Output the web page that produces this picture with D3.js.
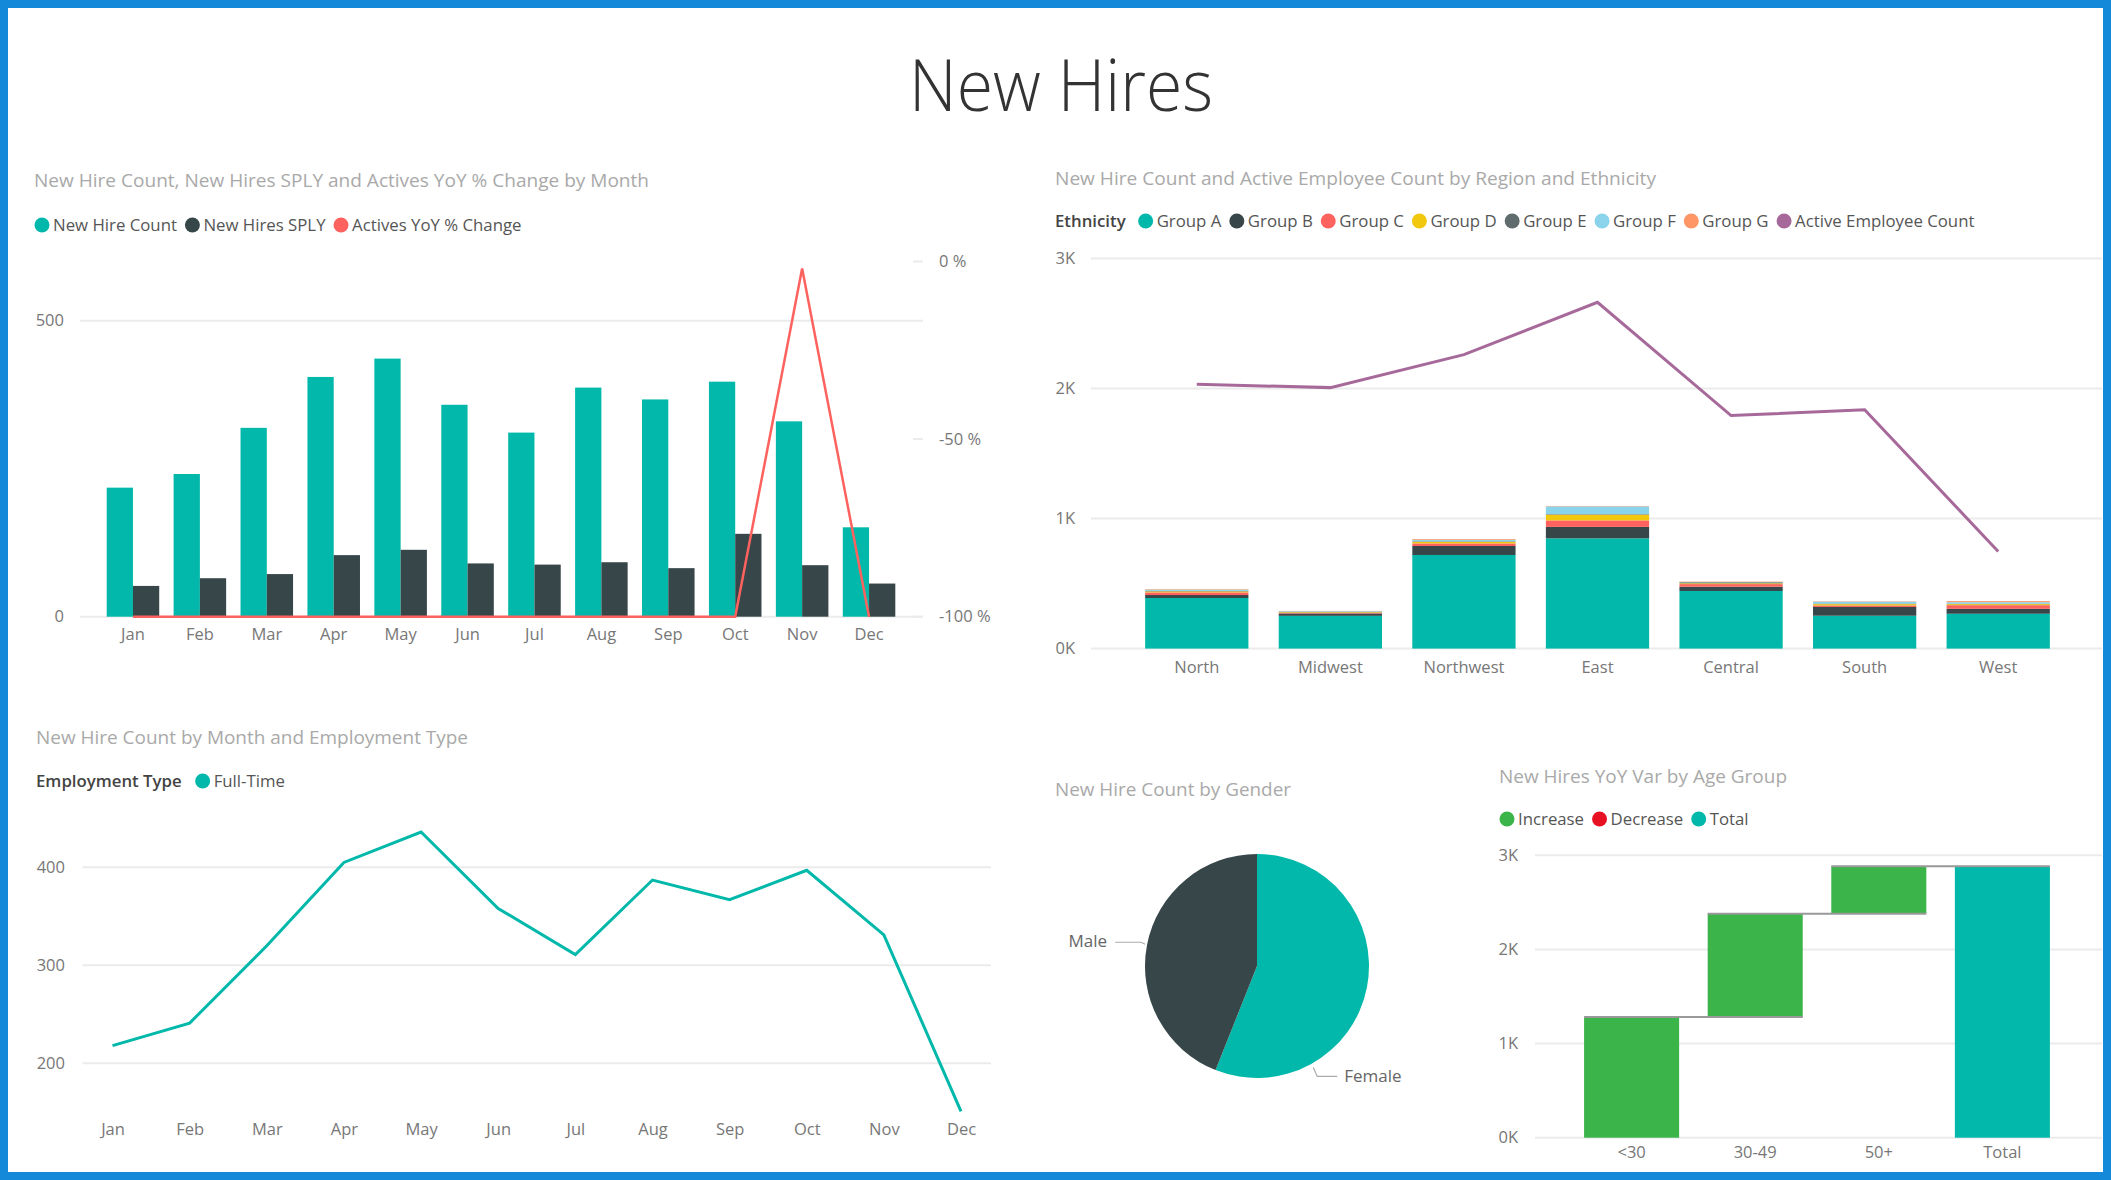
<!DOCTYPE html>
<html><head><meta charset="utf-8">
<script src="https://cdn.jsdelivr.net/npm/d3@7"></script>
<style>
html,body{margin:0;padding:0;background:#fff;overflow:hidden;}
svg{display:block;}
text{font-family:"Segoe UI","Open Sans",sans-serif;}
</style></head><body>
<svg id="dash" width="2111" height="1180"></svg>
<script>
// ---------------- DATA ----------------
const months = ["Jan","Feb","Mar","Apr","May","Jun","Jul","Aug","Sep","Oct","Nov","Dec"];
const newHireCount = [218, 241, 319, 405, 436, 358, 311, 387, 367, 397, 330, 151];
const newHiresSPLY = [52, 65, 72, 104, 113, 90, 88, 92, 82, 140, 87, 56];
const activesYoYPct = [-100, -100, -100, -100, -100, -100, -100, -100, -100, -100, -2, -100];
const fullTimeHires = [218, 241, 320, 405, 436, 358, 311, 387, 367, 397, 331, 151];

const regions = ["North","Midwest","Northwest","East","Central","South","West"];
const ethnicityGroups = ["Group A","Group B","Group C","Group D","Group E","Group F","Group G"];
const groupA = [389, 252, 720, 848, 443, 253, 268];
const groupB = [23, 18, 69, 88, 33, 67, 38];
const groupC = [20, 5, 20, 50, 20, 12, 28];
const groupD = [8, 5, 12, 44, 6, 10, 8];
const groupE = [4, 3, 4, 4, 8, 4, 3];
const groupF = [10, 5, 12, 60, 2, 15, 12];
const groupG = [4, 2, 6, 3, 3, 3, 8];
const activeEmployeeCount = [2033, 2007, 2261, 2663, 1792, 1837, 747];

const genders = ["Female","Male"];
const genderCounts = [2197, 1724];

const ageGroups = ["<30","30-49","50+"];
const ageYoYVar = [1282, 1098, 503];

const ticks1Left = [0, 500];
const ticks1Right = [-100, -50, 0];
const ticks2 = [0, 1000, 2000, 3000];
const ticks3 = [200, 300, 400];
const ticks5 = [0, 1000, 2000, 3000];

// ---------------- STYLE ----------------
const C = {
  teal:"#01B8AA", dark:"#374649", red:"#FD625E", yellow:"#F2C80F", gray:"#5F6B6D",
  lblue:"#8AD4EB", orange:"#FE9666", purple:"#A66999", inc:"#3BB44A", dec:"#E81123",
  grid:"#ebebeb", axis:"#777", title:"#a9a9a9", legend:"#555", border:"#1489DA"
};
const groupColors = [C.teal, C.dark, C.red, C.yellow, C.gray, C.lblue, C.orange];

const svg = d3.select("#dash");
svg.append("rect").attr("x",4).attr("y",4).attr("width",2103).attr("height",1172)
  .attr("fill","#fff").attr("stroke",C.border).attr("stroke-width",8);

svg.append("text").attr("x",1061).attr("y",111).attr("text-anchor","middle")
  .attr("font-size",72).attr("font-weight",300).attr("fill","#333")
  .attr("textLength",304).attr("lengthAdjust","spacingAndGlyphs").text("New Hires");

function title(x, y, txt, w){
  svg.append("text").attr("x",x).attr("y",y).attr("font-size",19).attr("fill",C.title)
    .attr("textLength",w).attr("lengthAdjust","spacingAndGlyphs").text(txt);
}
function legend(x, cy, head, items, gapAfterHead){
  let cur = x;
  if(head){
    const t = svg.append("text").attr("x",cur).attr("y",cy).attr("dy","0.35em")
      .attr("font-size",16.8).attr("font-weight",600).attr("fill","#444").text(head);
    cur += t.node().getComputedTextLength() + gapAfterHead;
  } else cur += 8;
  items.forEach(it=>{
    svg.append("circle").attr("cx",cur).attr("cy",cy).attr("r",7.5).attr("fill",it.color);
    const t = svg.append("text").attr("x",cur+11).attr("y",cy).attr("dy","0.35em")
      .attr("font-size",16.8).attr("fill",C.legend).text(it.label);
    cur = cur + 11 + t.node().getComputedTextLength() + 15.5;
  });
}
function hGrid(g, ticks, y, x0, x1){
  g.selectAll(null).data(ticks).enter().append("line")
    .attr("x1",x0).attr("x2",x1).attr("y1",d=>y(d)).attr("y2",d=>y(d))
    .attr("stroke",C.grid).attr("stroke-width",2);
}
function styleAxis(sel){
  sel.select(".domain").remove();
  sel.selectAll(".tick line").remove();
  sel.selectAll("text").attr("font-size",16.5).attr("fill",C.axis)
    .attr("font-family",'"Segoe UI","Open Sans",sans-serif');
}

// ============ CHART 1 ============
title(34, 187, "New Hire Count, New Hires SPLY and Actives YoY % Change by Month", 615);
legend(34, 225, null, [
  {label:"New Hire Count", color:C.teal},
  {label:"New Hires SPLY", color:C.dark},
  {label:"Actives YoY % Change", color:C.red}]);
{
  const g = svg.append("g");
  const x = d3.scaleBand().domain(months).range([99.5,902.5]).paddingInner(0.215).paddingOuter(0.1075);
  const xs = d3.scaleBand().domain(["cnt","sply"]).range([0,x.bandwidth()]);
  const y = d3.scaleLinear().domain([0,600]).range([616.7,261.5]);
  const yr = d3.scaleLinear().domain([-100,0]).range([616.7,261.5]);
  hGrid(g, ticks1Left, y, 80, 923);
  const data = months.map((m,i)=>({m, cnt:newHireCount[i], sply:newHiresSPLY[i], yoy:activesYoYPct[i]}));
  const grp = g.selectAll(".m").data(data).enter().append("g").attr("transform",d=>`translate(${x(d.m)},0)`);
  grp.append("rect").attr("x",xs("cnt")).attr("width",xs.bandwidth()).attr("y",d=>y(d.cnt)).attr("height",d=>y(0)-y(d.cnt)).attr("fill",C.teal);
  grp.append("rect").attr("x",xs("sply")).attr("width",xs.bandwidth()).attr("y",d=>y(d.sply)).attr("height",d=>y(0)-y(d.sply)).attr("fill",C.dark);
  g.append("path").datum(data).attr("fill","none").attr("stroke",C.red).attr("stroke-width",2.5)
    .attr("d",d3.line().x(d=>x(d.m)+x.bandwidth()/2).y(d=>yr(d.yoy)));
  const ax = g.append("g").attr("transform","translate(0,616.7)").call(d3.axisBottom(x).tickSize(0).tickPadding(12));
  styleAxis(ax);
  const ay = g.append("g").attr("transform","translate(64,0)").call(d3.axisLeft(y).tickValues(ticks1Left).tickSize(0).tickPadding(0));
  styleAxis(ay);
  const ar = g.append("g").attr("transform","translate(923,0)").call(d3.axisRight(yr).tickValues(ticks1Right).tickSize(0).tickPadding(16).tickFormat(d=>d+" %"));
  styleAxis(ar);
  g.selectAll(null).data(ticks1Right).enter().append("line").attr("x1",913).attr("x2",923)
    .attr("y1",d=>yr(d)).attr("y2",d=>yr(d)).attr("stroke",C.grid).attr("stroke-width",2);
}

// ============ CHART 2 ============
title(1055, 185, "New Hire Count and Active Employee Count by Region and Ethnicity", 601);
legend(1055, 221, "Ethnicity",
  ethnicityGroups.map((gname,i)=>({label:gname, color:groupColors[i]})).concat([{label:"Active Employee Count", color:C.purple}]), 20);
{
  const g = svg.append("g");
  const x = d3.scaleBand().domain(regions).range([1130,2065]).paddingInner(0.227).paddingOuter(0.1135);
  const y = d3.scaleLinear().domain([0,3000]).range([648.6,258.5]);
  hGrid(g, ticks2, y, 1091, 2102);
  const groupArrays = [groupA, groupB, groupC, groupD, groupE, groupF, groupG];
  const rows = regions.map((r,i)=>{ const o={region:r}; ethnicityGroups.forEach((gn,j)=>o[gn]=groupArrays[j][i]); return o; });
  const series = d3.stack().keys(ethnicityGroups)(rows);
  g.selectAll(".s").data(series).enter().append("g").attr("fill",(d,i)=>groupColors[i])
    .selectAll("rect").data(d=>d).enter().append("rect")
    .attr("x",d=>x(d.data.region)).attr("width",x.bandwidth())
    .attr("y",d=>y(d[1])).attr("height",d=>y(d[0])-y(d[1]));
  g.append("path").datum(activeEmployeeCount).attr("fill","none").attr("stroke",C.purple).attr("stroke-width",3)
    .attr("d",d3.line().x((d,i)=>x(regions[i])+x.bandwidth()/2).y(d=>y(d)));
  const ax = g.append("g").attr("transform","translate(0,648.6)").call(d3.axisBottom(x).tickSize(0).tickPadding(12.5));
  styleAxis(ax);
  const ay = g.append("g").attr("transform","translate(1075,0)").call(d3.axisLeft(y).tickValues(ticks2).tickSize(0).tickPadding(0).tickFormat(d=>(d/1000)+"K"));
  styleAxis(ay);
}

// ============ CHART 3 ============
title(36, 744, "New Hire Count by Month and Employment Type", 432);
legend(36, 781, "Employment Type", [{label:"Full-Time", color:C.teal}], 21);
{
  const g = svg.append("g");
  const x = d3.scalePoint().domain(months).range([112.5,961]);
  const y = d3.scaleLinear().domain([150,450]).range([1112.3,818.3]);
  hGrid(g, ticks3, y, 82.6, 991);
  g.append("path").datum(fullTimeHires).attr("fill","none").attr("stroke",C.teal).attr("stroke-width",3)
    .attr("d",d3.line().x((d,i)=>x(months[i])).y(d=>y(d)));
  const ax = g.append("g").attr("transform","translate(0,1112.3)").call(d3.axisBottom(x).tickSize(0).tickPadding(11));
  styleAxis(ax);
  const ay = g.append("g").attr("transform","translate(65,0)").call(d3.axisLeft(y).tickValues(ticks3).tickSize(0).tickPadding(0));
  styleAxis(ay);
}

// ============ CHART 4 (pie) ============
title(1055, 796, "New Hire Count by Gender", 236);
{
  const cx = 1257, cy = 966, r = 112;
  const g = svg.append("g").attr("transform",`translate(${cx},${cy})`);
  const pie = d3.pie().sort(null)(genderCounts);
  const arc = d3.arc().innerRadius(0).outerRadius(r);
  g.selectAll("path").data(pie).enter().append("path").attr("d",arc)
    .attr("fill",(d,i)=> i===0 ? C.teal : C.dark);
  // leader lines & labels
  const fa = 151*Math.PI/180, ma = 281*Math.PI/180;
  const p = (a,rr)=>[rr*Math.sin(a), -rr*Math.cos(a)];
  const f0 = p(fa, r+4), m0 = p(ma, r+2);
  g.append("path").attr("fill","none").attr("stroke","#aaa").attr("stroke-width",1.2)
    .attr("d",`M${f0[0]},${f0[1]}L${f0[0]+4},${f0[1]+9}L${f0[0]+24},${f0[1]+9}`);
  g.append("text").attr("x",f0[0]+31).attr("y",f0[1]+9).attr("dy","0.35em").attr("font-size",17).attr("fill","#666").text(genders[0]);
  g.append("path").attr("fill","none").attr("stroke","#aaa").attr("stroke-width",1.2)
    .attr("d",`M${m0[0]},${m0[1]}L${m0[0]-4},${m0[1]-2}L${m0[0]-30},${m0[1]-2}`);
  g.append("text").attr("x",m0[0]-38).attr("y",m0[1]-3).attr("dy","0.35em").attr("text-anchor","end").attr("font-size",17).attr("fill","#666").text(genders[1]);
}

// ============ CHART 5 (waterfall) ============
title(1499, 783, "New Hires YoY Var by Age Group", 288);
legend(1499, 819, null, [
  {label:"Increase", color:C.inc},
  {label:"Decrease", color:C.dec},
  {label:"Total", color:C.teal}]);
{
  const g = svg.append("g");
  const cats = ageGroups.concat(["Total"]);
  const x = d3.scaleBand().domain(cats).range([1570,2064]).paddingInner(0.231).paddingOuter(0.114);
  const y = d3.scaleLinear().domain([0,3000]).range([1137.7,855.3]);
  hGrid(g, ticks5, y, 1535, 2102);
  let cum = 0;
  const bars = ageGroups.map((a,i)=>{ const s=cum; cum+=ageYoYVar[i]; return {cat:a, start:s, end:cum, type: ageYoYVar[i]>=0?"inc":"dec"}; });
  bars.push({cat:"Total", start:0, end:cum, type:"total"});
  g.selectAll("rect").data(bars).enter().append("rect")
    .attr("x",d=>x(d.cat)).attr("width",x.bandwidth())
    .attr("y",d=>y(Math.max(d.start,d.end))).attr("height",d=>Math.abs(y(d.start)-y(d.end)))
    .attr("fill",d=>d.type==="inc"?C.inc:(d.type==="dec"?C.dec:C.teal));
  g.selectAll(".conn").data(bars.slice(0,-1)).enter().append("line")
    .attr("x1",d=>x(d.cat)).attr("x2",(d,i)=>x(cats[i+1])+x.bandwidth())
    .attr("y1",d=>y(d.end)).attr("y2",d=>y(d.end)).attr("stroke","#999").attr("stroke-width",2);
  const ax = g.append("g").attr("transform","translate(0,1137.7)").call(d3.axisBottom(x).tickSize(0).tickPadding(9));
  styleAxis(ax);
  const ay = g.append("g").attr("transform","translate(1518,0)").call(d3.axisLeft(y).tickValues(ticks5).tickSize(0).tickPadding(0).tickFormat(d=>(d/1000)+"K"));
  styleAxis(ay);
}
</script>
</body></html>
